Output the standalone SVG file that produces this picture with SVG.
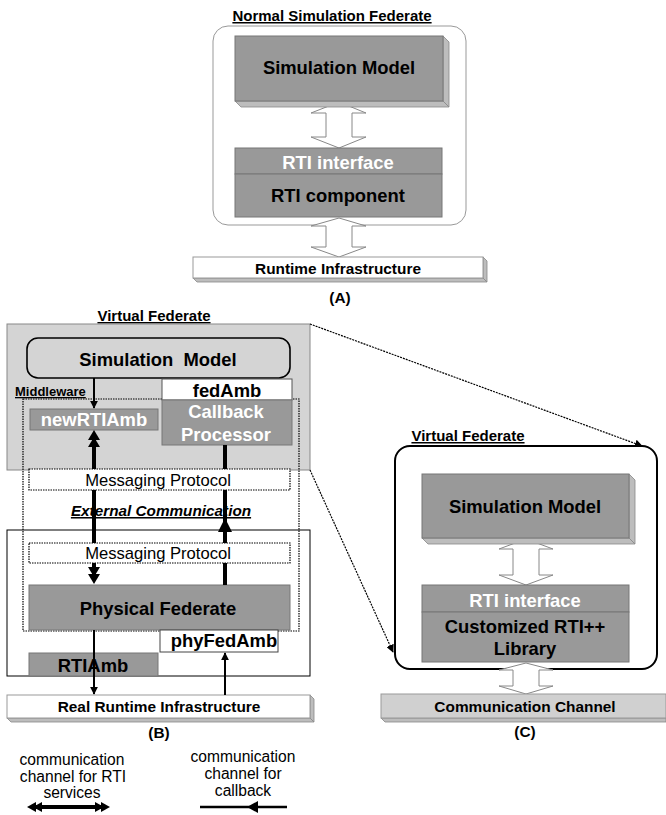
<svg xmlns="http://www.w3.org/2000/svg" width="666" height="815" viewBox="0 0 666 815">
<defs>
<style>
text{font-family:"Liberation Sans",Arial,sans-serif;}
.b{font-weight:bold;}
.t{text-anchor:middle;}
.gray{fill:#999999;stroke:#777777;stroke-width:1;}
.side{fill:#bdbdbd;stroke:#888888;stroke-width:0.8;}
.hollow{fill:#ffffff;stroke:#888888;stroke-width:1;}
.dot{fill:#ffffff;stroke:#000;stroke-width:1.2;stroke-dasharray:1.5 1;}
.thick{stroke:#000;stroke-width:4;fill:none;}
.thin{stroke:#000;stroke-width:2;fill:none;}
.dash{stroke:#000;stroke-width:1.2;stroke-dasharray:2 1;fill:none;}
.big{font-size:18.4px;font-weight:bold;text-anchor:middle;}
.mid{font-size:15.4px;font-weight:bold;text-anchor:middle;}
.ttl{font-size:15px;font-weight:bold;text-anchor:middle;text-decoration:underline;}
.nor{font-size:15.6px;text-anchor:middle;}
.msg{font-size:16.6px;text-anchor:middle;}
</style>
<marker id="ah" viewBox="0 0 10 10" refX="9" refY="5" markerWidth="8" markerHeight="8" markerUnits="userSpaceOnUse" orient="auto"><path d="M0,0 L10,5 L0,10 z" fill="#000"/></marker>
</defs>

<!-- (A) -->
<g id="normal-federate">
<text x="332" y="21" class="ttl">Normal Simulation Federate</text>
<rect x="213" y="26" width="253" height="199" rx="15" fill="#fff" stroke="#999" stroke-width="1"/>
</g>
<g id="a-arrow1">
<polygon class="hollow" points="339,102 366,113 352,113 352,137 366,137 339,148 311,137 326,137 326,113 311,113"/>
</g>
<g id="a-sim-model">
<polygon class="side" points="443,36 449,42 449,107 443,101"/>
<polygon class="side" points="235,101 241,107 449,107 443,101"/>
<rect x="235" y="36" width="208" height="65" class="gray"/>
<text x="339" y="74" class="big">Simulation Model</text>
</g>
<g id="a-rti">
<rect x="235" y="148" width="207" height="26" class="gray"/>
<text x="338" y="169" class="big" fill="#fff">RTI interface</text>
<rect x="235" y="174" width="207" height="43" class="gray"/>
<text x="338" y="202" class="big">RTI component</text>
</g>
<g id="a-arrow2">
<polygon class="hollow" points="339,218 366,226 352,226 352,247 366,247 339,257 311,247 326,247 326,226 311,226"/>
</g>
<g id="a-rti-infra">
<polygon class="side" points="483,257 487,261 487,282 483,278"/>
<polygon class="side" points="193,278 197,282 487,282 483,278"/>
<rect x="193" y="257" width="290" height="21" fill="#fff" stroke="#999" stroke-width="1"/>
<text x="338" y="274" class="mid">Runtime Infrastructure</text>
</g>
<text x="340" y="303" class="mid">(A)</text>

<!-- (B) -->
<g id="virtual-federate-b">
<text x="154" y="321" class="ttl">Virtual Federate</text>
<rect x="7" y="324" width="303" height="146" fill="#d4d4d4" stroke="#888" stroke-width="1"/>
</g>
<g id="physical-area">
<rect x="7" y="530" width="303" height="146" fill="#fff" stroke="#000" stroke-width="1"/>
</g>
<g id="b-sim-model">
<rect x="27" y="338" width="263" height="40" rx="11" fill="#d4d4d4" stroke="#000" stroke-width="1.6"/>
<text x="158" y="366" class="big" xml:space="preserve">Simulation  Model</text>
</g>
<g id="middleware">
<rect x="23" y="399" width="276" height="232" fill="none" stroke="#000" stroke-width="1.2" stroke-dasharray="1.5 1"/>
<text x="15" y="396" class="b" font-size="13" text-decoration="underline">Middleware</text>
</g>
<g id="fedAmb">
<rect x="162" y="379" width="130" height="21" fill="#fff" stroke="#555" stroke-width="1"/>
<text x="227" y="397" class="big">fedAmb</text>
</g>
<g id="callback-processor">
<rect x="162" y="400" width="130" height="45" class="gray" stroke="#555"/>
<text x="226" y="418" class="big" fill="#fff">Callback</text>
<text x="226" y="441" class="big" fill="#fff">Processor</text>
</g>
<g id="newRTIAmb">
<rect x="30" y="409" width="128" height="21" class="gray" stroke="#555"/>
<text x="94" y="426" class="big" fill="#fff">newRTIAmb</text>
</g>
<g id="physical-federate">
<rect x="29" y="585" width="261" height="45" class="gray" stroke="#444"/>
<text x="158" y="615" class="big">Physical Federate</text>
</g>
<g id="phyFedAmb">
<rect x="160" y="630" width="118" height="22" fill="#fff" stroke="#444" stroke-width="1"/>
<text x="224" y="647" class="big">phyFedAmb</text>
</g>
<g id="RTIAmb">
<rect x="29" y="653" width="129" height="23" class="gray" stroke="#444"/>
<text x="93" y="672" class="big">RTIAmb</text>
</g>
<g id="real-rti">
<polygon class="side" points="310,695 314,699 314,722 310,718"/>
<polygon class="side" points="7,718 11,722 314,722 310,718"/>
<rect x="7" y="695" width="303" height="23" fill="#fff" stroke="#999" stroke-width="1"/>
<text x="159" y="712" class="mid">Real Runtime Infrastructure</text>
</g>

<g id="connectors">
<line x1="94" y1="378" x2="94" y2="408" class="thin" marker-end="url(#ah)"/>
<line x1="94" y1="438" x2="94" y2="575" class="thick"/>
<polygon points="94,430 88,440 100,440" fill="#000"/>
<polygon points="94,437 88,447 100,447" fill="#000"/>
<polygon points="94,584 88,574 100,574" fill="#000"/>
<polygon points="94,577 88,567 100,567" fill="#000"/>
<line x1="225" y1="445" x2="225" y2="585" class="thick"/>
<polygon points="225,518 218,532 232,532" fill="#000"/>
<line x1="94" y1="630" x2="94" y2="694" class="thin" marker-end="url(#ah)"/>
<line x1="225" y1="695" x2="225" y2="653" class="thin" marker-end="url(#ah)"/>
<line x1="310" y1="324" x2="642" y2="446" class="dash" marker-end="url(#ah)"/>
<line x1="310" y1="470" x2="393" y2="652" class="dash" marker-end="url(#ah)"/>
</g>

<g id="messaging-protocol-1">
<rect x="29" y="469" width="261" height="21" class="dot"/>
<text x="158" y="486" class="msg">Messaging Protocol</text>
</g>
<g id="messaging-protocol-2">
<rect x="29" y="543" width="261" height="20" class="dot"/>
<text x="158" y="559" class="msg">Messaging Protocol</text>
</g>
<text x="161" y="516" class="b t" font-size="15.3" font-style="italic" text-decoration="underline">External Communication</text>
<text x="159" y="738" class="mid">(B)</text>

<!-- legend -->
<g id="legend-rti">
<text x="72" y="765" class="nor">communication</text>
<text x="73" y="782" class="nor">channel for RTI</text>
<text x="72" y="798" class="nor">services</text>
<line x1="36" y1="807" x2="102" y2="807" stroke="#000" stroke-width="4"/>
<polygon points="27,807 36,802 36,812" fill="#000"/>
<polygon points="33,807 42,802 42,812" fill="#000"/>
<polygon points="110,807 101,802 101,812" fill="#000"/>
<polygon points="104,807 95,802 95,812" fill="#000"/>
</g>
<g id="legend-callback">
<text x="243" y="762" class="nor">communication</text>
<text x="243" y="779" class="nor">channel for</text>
<text x="243" y="796" class="nor">callback</text>
<line x1="200" y1="807" x2="287" y2="807" stroke="#000" stroke-width="2.5"/>
<polygon points="247,807 258,801 258,813" fill="#000"/>
</g>

<!-- (C) -->
<g id="virtual-federate-c">
<text x="468" y="441" class="ttl">Virtual Federate</text>
<rect x="395" y="446" width="262" height="223" rx="15" fill="#fff" stroke="#000" stroke-width="2"/>
</g>
<g id="c-arrow1">
<polygon class="hollow" points="526,539 553,549 539,549 539,575 553,575 526,585 499,575 513,575 513,549 499,549"/>
</g>
<g id="c-sim-model">
<polygon class="side" points="629,474 635,480 635,544 629,538"/>
<polygon class="side" points="422,538 428,544 635,544 629,538"/>
<rect x="422" y="474" width="207" height="64" class="gray"/>
<text x="525" y="513" class="big">Simulation Model</text>
</g>
<g id="c-rti">
<rect x="422" y="585" width="207" height="27" class="gray"/>
<text x="525" y="607" class="big" fill="#fff">RTI interface</text>
<rect x="422" y="612" width="207" height="50" class="gray"/>
<text x="525" y="633" class="big">Customized RTI++</text>
<text x="525" y="655" class="big">Library</text>
</g>
<g id="c-arrow2">
<polygon class="hollow" points="526,663 553,670 539,670 539,686 553,686 526,694 499,686 513,686 513,670 499,670"/>
</g>
<g id="comm-channel">
<polygon class="side" points="666,694 670,698 670,722 666,718"/>
<polygon class="side" points="381,718 385,722 666,722 666,718"/>
<rect x="381" y="694" width="285" height="24" fill="#d0d0d0" stroke="#999" stroke-width="1"/>
<text x="525" y="712" class="mid">Communication Channel</text>
</g>
<text x="525" y="737" class="mid">(C)</text>
</svg>
